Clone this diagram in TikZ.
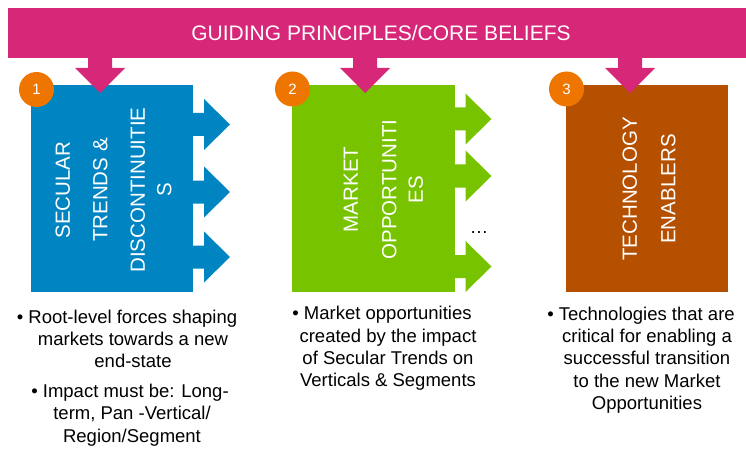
\documentclass[tikz,border=0pt]{standalone}
\usepackage{fontspec}
\setmainfont{Liberation Sans}
\definecolor{bannerpink}{RGB}{214,39,120}
\definecolor{trendblue}{RGB}{0,133,194}
\definecolor{marketgreen}{RGB}{120,195,0}
\definecolor{techbrown}{RGB}{180,80,0}
\definecolor{badgeorange}{RGB}{238,118,0}
\begin{document}
\begin{tikzpicture}[x=1pt,y=-1pt,
  every node/.style={inner sep=0pt, outer sep=0pt},
  block/.style={fill=#1, minimum height=207pt, anchor=north west},
  blocktext/.style={text=white, rotate=90, align=center,
    font=\fontsize{20.5}{26.5}\selectfont},
  badge/.style={circle, fill=badgeorange, minimum size=35pt, text=white,
    font=\fontsize{15}{18}\selectfont},
  note/.style={align=center, text=black, font=\fontsize{18.5}{22.3}\selectfont},
  downarrow/.pic={\path[pic actions] (-12,-1) -- (-12,10) -- (-25,10) -- (0,35)
    -- (25,10) -- (12,10) -- (12,-1) -- cycle;},
  sidearrow/.pic={\path[pic actions] (-1,-11.5) -- (11,-11.5) -- (11,-25.5)
    -- (37,0) -- (11,25.5) -- (11,11.5) -- (-1,11.5) -- cycle;}
]
\useasboundingbox (0,0) rectangle (746,449);

% banner
\node[fill=bannerpink, minimum width=738pt, minimum height=50pt, anchor=north west]
  (banner) at (8,8) {};
\node[text=white, font=\fontsize{21}{25}\selectfont] (title) at (381,33)
  {GUIDING PRINCIPLES/CORE BELIEFS};

% the three columns
\node[block=trendblue, minimum width=162pt] (b1) at (31,85) {};
\node[block=marketgreen, minimum width=163pt] (b2) at (292,85) {};
\node[block=techbrown, minimum width=162pt] (b3) at (566,85) {};

% arrows leaving the columns
\pic[fill=trendblue] at (193,124.5) {sidearrow};
\pic[fill=trendblue] at (193,192) {sidearrow};
\pic[fill=trendblue] at (193,257) {sidearrow};
\pic[fill=marketgreen] at (454.5,119) {sidearrow};
\pic[fill=marketgreen] at (454.5,176) {sidearrow};
\pic[fill=marketgreen] at (454.5,266.5) {sidearrow};
\node[font=\fontsize{18.5}{22}\selectfont] (dots) at (479,233) {…};

% arrows from the banner
\pic[fill=bannerpink] at (100,58) {downarrow};
\pic[fill=bannerpink] at (365,58) {downarrow};
\pic[fill=bannerpink] at (630,58) {downarrow};

% column titles
\node[blocktext] (t1) at (113.5,190)
  {SECULAR\\[11pt]TRENDS \&\\[11pt]DISCONTINUITIE\\S};
\node[blocktext] (t2) at (383.5,189.5) {MARKET\\[12pt]OPPORTUNITI\\ES};
\node[blocktext] (t3) at (649,189) {TECHNOLOGY\\[12pt]ENABLERS};

% numbered badges
\node[badge] (n1) at (36.5,89.5) {1};
\node[badge] (n2) at (292.5,89) {2};
\node[badge] (n3) at (566.5,89) {3};

% descriptions
\node[note] (d1a) at (133,339)
  {• Root-level forces shaping\hspace*{12pt}\\markets towards a new\\end-state};
\node[note] (d1b) at (132,415)
  {• Impact must be: Long-\hspace*{4pt}\\term, Pan -Vertical/\\Region/Segment};
\node[note] (d2) at (388,348.5)
  {• Market opportunities\hspace*{12pt}\\created by the impact\\of Secular Trends on\\Verticals \& Segments};
\node[note] (d3) at (647,360)
  {• Technologies that are\hspace*{12pt}\\critical for enabling a\\successful transition\\to the new Market\\Opportunities};
\end{tikzpicture}
\end{document}
